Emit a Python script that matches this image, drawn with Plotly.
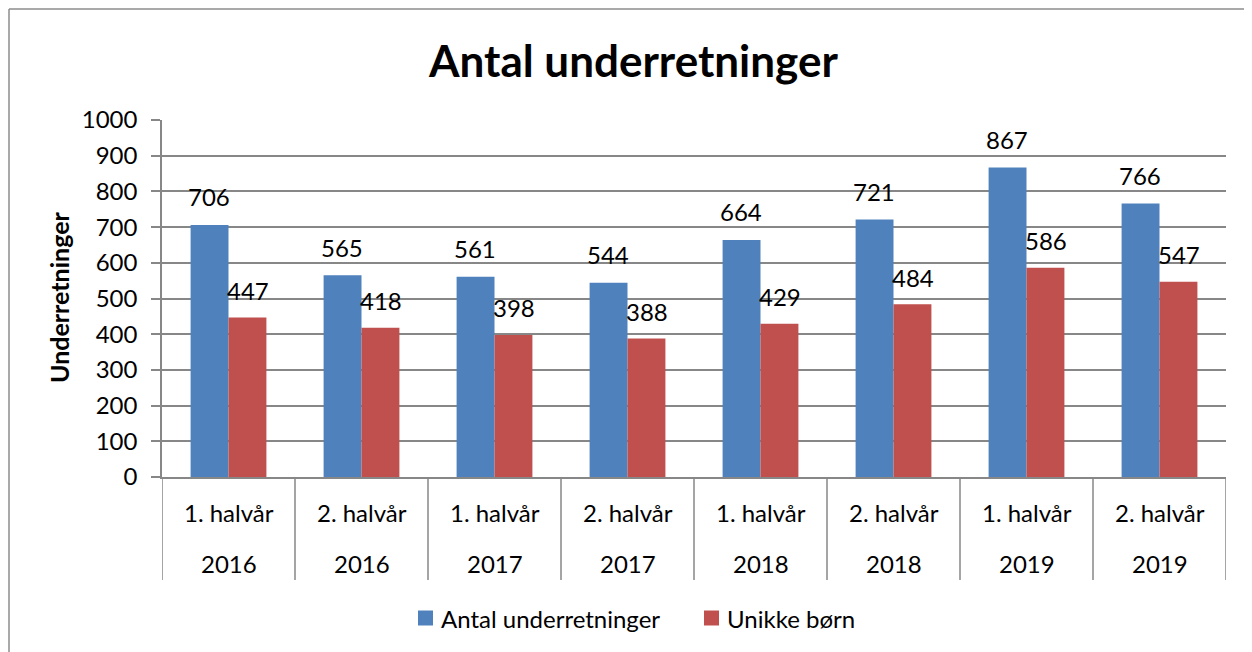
import plotly.graph_objects as go

periods = ["1. halvår", "2. halvår", "1. halvår", "2. halvår", "1. halvår", "2. halvår", "1. halvår", "2. halvår"]
years = ["2016", "2016", "2017", "2017", "2018", "2018", "2019", "2019"]
antal_underretninger = [706, 565, 561, 544, 664, 721, 867, 766]
unikke_boern = [447, 418, 398, 388, 429, 484, 586, 547]
series_names = ["Antal underretninger", "Unikke børn"]
series_colors = ["#4F81BD", "#C0504D"]
y_ticks = [0, 100, 200, 300, 400, 500, 600, 700, 800, 900, 1000]

FONT = "Lato"
GRID = "#878787"
OFF = 8  # page body margin
W, H = 1244, 644
L, R, T, B = 154, 26, 112, 175
PW, PH = W - L - R, H - T - B

def px_x(p):
    return (p - OFF - L) / PW

def px_y(p):
    return (H - B - (p - OFF)) / PH

xs = list(range(len(periods)))

fig = go.Figure()
for name, vals, col in zip(series_names, [antal_underretninger, unikke_boern], series_colors):
    fig.add_trace(go.Bar(x=xs, y=vals, name=name, showlegend=False,
                         marker=dict(color=col, line=dict(width=0))))

ann = []
for i, v in enumerate(antal_underretninger):
    ann.append(dict(x=i - 0.143, y=v, xref="x", yref="y", text=str(v), showarrow=False,
                    yanchor="middle", yshift=28, font=dict(family=FONT, size=24, color="black")))
for i, v in enumerate(unikke_boern):
    ann.append(dict(x=i + 0.143, y=v, xref="x", yref="y", text=str(v), showarrow=False,
                    yanchor="middle", yshift=27, font=dict(family=FONT, size=24, color="black")))
for i, (p, yr) in enumerate(zip(periods, years)):
    ann.append(dict(x=i, y=px_y(512), xref="x", yref="paper", text=p, showarrow=False,
                    yanchor="middle", font=dict(family=FONT, size=24, color="black")))
    ann.append(dict(x=i, y=px_y(563), xref="x", yref="paper", text=yr, showarrow=False,
                    yanchor="middle", font=dict(family=FONT, size=24, color="black")))
ann.append(dict(x=px_x(633), y=px_y(60), xref="paper", yref="paper", text="<b>Antal underretninger</b>",
                showarrow=False, yanchor="middle", xanchor="center",
                font=dict(family=FONT, size=44, color="black")))
ann.append(dict(x=px_x(59), y=px_y(298), xref="paper", yref="paper", text="<b>Underretninger</b>",
                showarrow=False, textangle=-90, xanchor="center", yanchor="middle",
                font=dict(family=FONT, size=25, color="black")))

shapes = []
for i in range(len(periods) + 1):
    shapes.append(dict(type="line", xref="x", yref="paper", x0=i - 0.5, x1=i - 0.5,
                       y0=px_y(580), y1=0, line=dict(color=GRID, width=1.5)))
shapes.append(dict(type="line", xref="paper", yref="paper", x0=px_x(9), x1=px_x(1252),
                   y0=px_y(9), y1=px_y(9), line=dict(color="#8C8C8C", width=1.5)))
shapes.append(dict(type="line", xref="paper", yref="paper", x0=px_x(9), x1=px_x(9),
                   y0=px_y(9), y1=px_y(652), line=dict(color="#8C8C8C", width=1.5)))

# legend (drawn manually to match square markers)
legend_sq_x = [418, 704]
for name, col, sx in zip(series_names, series_colors, legend_sq_x):
    shapes.append(dict(type="rect", xref="paper", yref="paper",
                       x0=px_x(sx), x1=px_x(sx + 15), y0=px_y(625.5), y1=px_y(610.5),
                       fillcolor=col, line=dict(width=0)))
    ann.append(dict(x=px_x(sx + 21), y=px_y(618), xref="paper", yref="paper", text=name,
                    showarrow=False, xanchor="left", yanchor="middle",
                    font=dict(family=FONT, size=24, color="black")))

fig.update_layout(
    width=W, height=H,
    margin=dict(l=L, r=R, t=T, b=B, autoexpand=False),
    paper_bgcolor="white", plot_bgcolor="white",
    barmode="group", bargap=0.43, bargroupgap=0,
    font=dict(family=FONT, size=24, color="black"),
    showlegend=False,
    annotations=ann,
    shapes=shapes,
    xaxis=dict(range=[-0.5, len(periods) - 0.5], showticklabels=False, showgrid=False,
               zeroline=False, showline=True, linecolor=GRID, linewidth=1.5, ticks=""),
    yaxis=dict(range=[0, 1000], tickvals=y_ticks, showgrid=True, gridcolor=GRID, gridwidth=1.5,
               zeroline=False, showline=True, linecolor=GRID, linewidth=1.5,
               ticks="outside", ticklen=9, tickcolor=GRID, tickwidth=1.5, ticklabelstandoff=9,
               tickfont=dict(family=FONT, size=24, color="black")),
)

fig.write_html("out.html")
